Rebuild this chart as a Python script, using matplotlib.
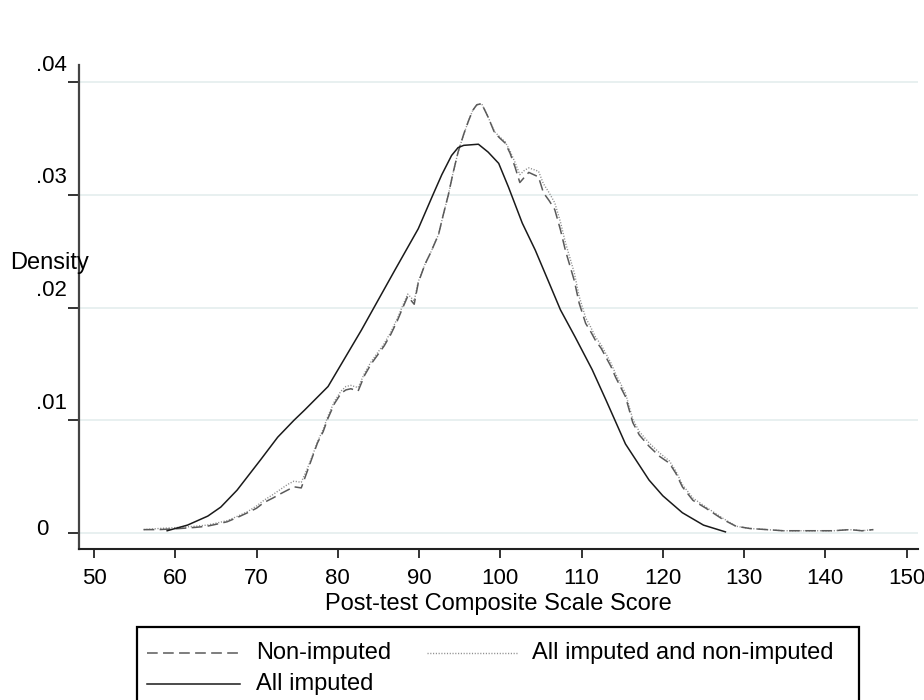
import matplotlib
matplotlib.use("Agg")
import matplotlib.pyplot as plt
from matplotlib.transforms import ScaledTranslation
from matplotlib.lines import Line2D
from matplotlib.patches import Rectangle

plt.rcParams['font.family'] = ['Liberation Sans', 'DejaVu Sans']

# ---- data ----
x_non = [56.1, 58.0, 60.6, 62.5, 63.9, 65.2, 66.4, 67.7, 68.9, 70.0, 70.9, 72.0, 73.0, 73.8, 74.6, 75.5,
         76.3, 77.0, 77.5, 78.2, 78.8, 79.6, 80.4, 81.0, 81.6, 82.5, 83.3, 84.1, 84.9, 85.7, 86.5, 87.3,
         88.0, 88.6, 89.4, 89.9, 90.7, 91.5, 92.4, 93.0, 93.6, 94.2, 94.8, 95.5, 96.1, 96.6, 97.1, 97.7,
         98.1, 98.5, 99.3, 100.0, 100.6, 101.2, 101.8, 102.4, 103.0, 103.5, 104.7, 105.3, 106.0, 106.7,
         107.4, 108.0, 109.1, 109.7, 110.5, 111.1, 111.7, 112.4, 113.0, 113.6, 114.2, 115.4, 116.3, 117.1,
         118.3, 119.6, 120.8, 121.6, 122.4, 123.7, 125.3, 127.4, 129.0, 130.7, 132.8, 134.8, 136.9, 138.9,
         141.0, 143.0, 144.5, 145.9]
y_non = [0.0003, 0.0003, 0.0004, 0.0005, 0.0006, 0.0008, 0.0010, 0.0014, 0.0018, 0.0022, 0.0027, 0.0031,
         0.0035, 0.0038, 0.0041, 0.0040, 0.0056, 0.0070, 0.0080, 0.0090, 0.0102, 0.0115, 0.0124, 0.0127,
         0.0128, 0.0126, 0.0140, 0.0150, 0.0158, 0.0166, 0.0176, 0.0188, 0.0200, 0.0210, 0.0203, 0.0222,
         0.0238, 0.0250, 0.0265, 0.0283, 0.0300, 0.0320, 0.0338, 0.0354, 0.0366, 0.0375, 0.0380, 0.0381,
         0.0375, 0.0369, 0.0355, 0.0350, 0.0346, 0.0337, 0.0325, 0.0311, 0.0316, 0.0320, 0.0316, 0.0302,
         0.0295, 0.0287, 0.0269, 0.0251, 0.0224, 0.0204, 0.0186, 0.0179, 0.0171, 0.0164, 0.0156, 0.0148,
         0.0138, 0.0121, 0.0098, 0.0087, 0.0077, 0.0068, 0.0062, 0.0053, 0.0041, 0.0029, 0.0022, 0.0012,
         0.0006, 0.0004, 0.0003, 0.0002, 0.0002, 0.0002, 0.0002, 0.0003, 0.0002, 0.0003]

x_all = [56.1, 58.0, 60.6, 62.5, 63.9, 65.2, 66.4, 67.7, 68.9, 70.0, 70.9, 72.0, 73.0, 73.8, 74.6, 75.5,
         76.3, 77.0, 77.5, 78.2, 78.8, 79.6, 80.4, 81.0, 81.6, 82.5, 83.3, 84.1, 84.9, 85.7, 86.5, 87.3,
         88.0, 88.6, 89.4, 89.9, 90.7, 91.5, 92.4, 93.0, 93.6, 94.2, 94.8, 95.5, 96.1, 96.6, 97.1, 97.7,
         98.1, 98.5, 99.3, 100.0, 100.6, 101.2, 101.8, 102.4, 103.0, 103.5, 104.7, 105.3, 106.0, 106.7,
         107.4, 108.0, 109.1, 109.7, 110.5, 111.1, 111.7, 112.4, 113.0, 113.6, 114.2, 115.4, 116.3, 117.1,
         118.3, 119.6, 120.8, 121.6, 122.4, 123.7, 125.3, 127.4, 129.0, 130.7, 132.8, 134.8, 136.9, 138.9,
         141.0, 143.0, 144.5, 145.9]
y_all = [0.0003, 0.0004, 0.0005, 0.0006, 0.0007, 0.0009, 0.0011, 0.0015, 0.0019, 0.0024, 0.0029, 0.0034,
         0.0039, 0.0043, 0.0046, 0.0045, 0.0058, 0.0071, 0.0081, 0.0092, 0.0104, 0.0117, 0.0126, 0.0130,
         0.0131, 0.0129, 0.0142, 0.0152, 0.0160, 0.0168, 0.0178, 0.0190, 0.0202, 0.0212, 0.0206, 0.0223,
         0.0238, 0.0250, 0.0265, 0.0283, 0.0300, 0.0320, 0.0338, 0.0354, 0.0366, 0.0375, 0.0380, 0.0381,
         0.0375, 0.0369, 0.0356, 0.0351, 0.0347, 0.0339, 0.0329, 0.0318, 0.0322, 0.0324, 0.0321, 0.0310,
         0.0302, 0.0293, 0.0276, 0.0258, 0.0231, 0.0210, 0.0191, 0.0183, 0.0174, 0.0167, 0.0159, 0.0151,
         0.0141, 0.0124, 0.0101, 0.0090, 0.0080, 0.0071, 0.0064, 0.0055, 0.0043, 0.0031, 0.0023, 0.0013,
         0.0006, 0.0004, 0.0003, 0.0002, 0.0002, 0.0002, 0.0002, 0.0003, 0.0002, 0.0003]

x_imp = [59.0, 61.5, 64.0, 65.6, 67.6, 70.5, 72.6, 74.6, 75.9, 78.8, 82.9, 87.0, 89.9, 91.7, 92.8, 94.0,
         94.8, 95.5, 97.3, 98.5, 99.8, 101.0, 102.7, 104.3, 106.0, 107.4, 109.2, 111.3, 113.0, 115.4,
         118.3, 120.0, 122.4, 125.0, 127.7]
y_imp = [0.0002, 0.0007, 0.0015, 0.0023, 0.0038, 0.0065, 0.0085, 0.0100, 0.0109, 0.0130, 0.0180, 0.0233,
         0.0270, 0.0300, 0.0318, 0.0335, 0.0342, 0.0344, 0.0345, 0.0338, 0.0328, 0.0307, 0.0275, 0.0251,
         0.0222, 0.0198, 0.0174, 0.0145, 0.0118, 0.0079, 0.0047, 0.0033, 0.0018, 0.0007, 0.0001]

labels = ["Non-imputed", "All imputed and non-imputed", "All imputed"]
xticks = [50, 60, 70, 80, 90, 100, 110, 120, 130, 140, 150]
yticks = [0, 0.01, 0.02, 0.03, 0.04]
ytick_labels = ["0", ".01", ".02", ".03", ".04"]

W, H = 924, 700
fig = plt.figure(figsize=(W / 100, H / 100), dpi=100)
ax = fig.add_axes([79 / W, 1 - 549 / H, (918 - 79) / W, (549 - 65) / H])

dash_style = dict(color='#5a5a5a', lw=1.1, dashes=(7, 3.5))
dot_style = dict(color='#8c8c8c', lw=1.0, dashes=(0.8, 1.2))
solid_style = dict(color='#1a1a1a', lw=1.1)

ax.plot(x_all, y_all, **dot_style)
ax.plot(x_non, y_non, **dash_style)
ax.plot(x_imp, y_imp, **solid_style)

ax.set_xlim(48.15, 151.4)
ax.set_ylim(-0.00142, 0.04153)
ax.set_xticks(xticks)
ax.set_xticklabels([str(v) for v in xticks])
ax.set_yticks(yticks)
ax.set_yticklabels(ytick_labels)
for y in yticks:
    ax.axhline(y, color='#e4eeee', lw=1.2, zorder=0)

for s in ['top', 'right']:
    ax.spines[s].set_visible(False)
ax.spines['left'].set_color('#444444')
ax.spines['left'].set_linewidth(1.6)
ax.spines['bottom'].set_color('#222222')
ax.spines['bottom'].set_linewidth(1.5)

ax.tick_params(axis='x', length=6.5, width=1.4, color='#333333', labelsize=16, pad=7)
ax.tick_params(axis='y', length=8, width=1.4, color='#333333', labelsize=16, pad=23)
for t in ax.get_yticklabels():
    t.set_horizontalalignment('left')
    dy = 4 / 72 if t.get_text() == "0" else 14 / 72
    t.set_transform(t.get_transform() + ScaledTranslation(0, dy, fig.dpi_scale_trans))

fig.text(10 / W, 1 - 263 / H, "Density", fontsize=17, ha='left', va='center')
fig.text(498.5 / W, 1 - 610 / H, "Post-test Composite Scale Score", fontsize=17,
         ha='center', va='baseline')

# legend (manual, Stata style)
fig.add_artist(Rectangle((137 / W, -0.05), (859 - 137) / W, 1 - 627 / H + 0.05,
                         transform=fig.transFigure, fill=False, ec='black', lw=1.6))
r1, r2 = 1 - 653 / H, 1 - 684 / H
fig.add_artist(Line2D([147 / W, 240 / W], [r1, r1], transform=fig.transFigure, **dash_style))
fig.add_artist(Line2D([427 / W, 517 / W], [r1, r1], transform=fig.transFigure, **dot_style))
fig.add_artist(Line2D([147 / W, 240 / W], [r2, r2], transform=fig.transFigure, **solid_style))
fig.text(256 / W, r1, labels[0], fontsize=17, ha='left', va='center')
fig.text(532 / W, r1, labels[1], fontsize=17, ha='left', va='center')
fig.text(256 / W, r2, labels[2], fontsize=17, ha='left', va='center')

fig.savefig("out.png", dpi=100)
